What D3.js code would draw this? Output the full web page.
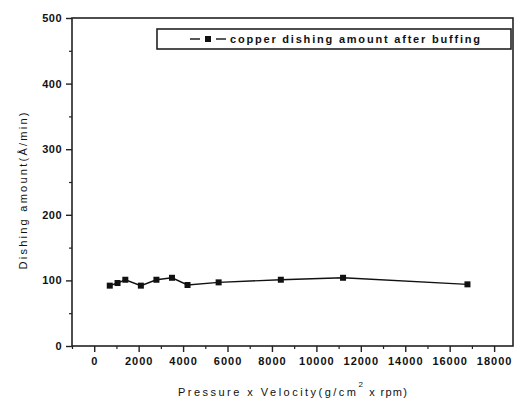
<!DOCTYPE html>
<html><head><meta charset="utf-8">
<script src="https://cdn.jsdelivr.net/npm/d3@7"></script>
<style>body{margin:0;background:#fff}svg{display:block}text{font-family:"Liberation Sans",Arial,sans-serif;fill:#111}</style>
</head><body><svg id="c" width="515" height="399"></svg>
<script>
const xValues = [700, 1050, 1400, 2100, 2800, 3500, 4200, 5600, 8400, 11200, 16800];
const yValues = [92, 96, 101, 92, 101, 104, 93, 97, 101, 104, 94];
const xTicks = [0, 2000, 4000, 6000, 8000, 10000, 12000, 14000, 16000, 18000];
const yTicks = [0, 100, 200, 300, 400, 500];
const seriesName = "copper dishing amount after buffing";
const xTitle = "Pressure x Velocity(g/cm";
const yTitle = "Dishing amount(Å/min)";

const svg = d3.select("#c");
const L = 72, R = 513, T = 18, B = 346;
const x = d3.scaleLinear().domain([-1000, 18850]).range([L, R]);
const y = d3.scaleLinear().domain([0, 500]).range([B, T]);

// frame
svg.append("rect").attr("x", L).attr("y", T).attr("width", R - L).attr("height", B - T)
  .attr("fill", "none").attr("stroke", "#222").attr("stroke-width", 1.6);

// x axis
const xa = svg.append("g").attr("transform", `translate(0,${B})`)
  .call(d3.axisBottom(x).tickValues(xTicks).tickSize(6).tickPadding(5).tickFormat(d3.format("d")));
xa.select(".domain").remove();
xa.selectAll("line").attr("stroke", "#222").attr("stroke-width", 1.4);
xa.selectAll("text").attr("font-size", 11).attr("font-weight", "bold").attr("letter-spacing", 1)
  .attr("fill", "#111");
const xm = svg.append("g").attr("transform", `translate(0,${B})`)
  .call(d3.axisBottom(x).tickValues(d3.range(1000, 18000, 2000).concat([-1000])).tickSize(3).tickFormat(""));
xm.select(".domain").remove();
xm.selectAll("line").attr("stroke", "#222").attr("stroke-width", 1.2);

// y axis
const ya = svg.append("g").attr("transform", `translate(${L},0)`)
  .call(d3.axisLeft(y).tickValues(yTicks).tickSize(6).tickPadding(4).tickFormat(d3.format("d")));
ya.select(".domain").remove();
ya.selectAll("line").attr("stroke", "#222").attr("stroke-width", 1.4);
ya.selectAll("text").attr("font-size", 11).attr("font-weight", "bold").attr("letter-spacing", 0.5)
  .attr("fill", "#111");
const ym = svg.append("g").attr("transform", `translate(${L},0)`)
  .call(d3.axisLeft(y).tickValues(d3.range(50, 500, 100)).tickSize(3).tickFormat(""));
ym.select(".domain").remove();
ym.selectAll("line").attr("stroke", "#222").attr("stroke-width", 1.2);

// series
const data = xValues.map((v, i) => [v, yValues[i]]);
svg.append("path").datum(data)
  .attr("d", d3.line().x(d => x(d[0])).y(d => y(d[1])))
  .attr("fill", "none").attr("stroke", "#111").attr("stroke-width", 1.4);
svg.selectAll(".pt").data(data).enter().append("rect")
  .attr("x", d => x(d[0]) - 3).attr("y", d => y(d[1]) - 3)
  .attr("width", 6).attr("height", 6).attr("fill", "#111");

// legend
svg.append("rect").attr("x", 157).attr("y", 29).attr("width", 354).attr("height", 20)
  .attr("fill", "#fff").attr("stroke", "#222").attr("stroke-width", 1.6);
svg.append("line").attr("x1", 190).attr("x2", 200).attr("y1", 39).attr("y2", 39)
  .attr("stroke", "#111").attr("stroke-width", 1.4);
svg.append("line").attr("x1", 216).attr("x2", 226).attr("y1", 39).attr("y2", 39)
  .attr("stroke", "#111").attr("stroke-width", 1.4);
svg.append("rect").attr("x", 205).attr("y", 36).attr("width", 6).attr("height", 6).attr("fill", "#111");
svg.append("text").attr("x", 230).attr("y", 43).attr("font-size", 11).attr("font-weight", "bold")
  .attr("textLength", 250).attr("lengthAdjust", "spacing").text(seriesName);

// axis titles
const xt = svg.append("text").attr("x", 178).attr("y", 396).attr("font-size", 11);
xt.append("tspan").attr("textLength", 178).attr("lengthAdjust", "spacing").text(xTitle);
xt.append("tspan").attr("dy", -9).attr("font-size", 8).text("2");
xt.append("tspan").attr("dy", 9).attr("dx", 2).attr("letter-spacing", 1.3).text(" x rpm)");

svg.append("text").attr("transform", "translate(27,191) rotate(-90)")
  .attr("text-anchor", "middle").attr("font-size", 11)
  .attr("textLength", 157).attr("lengthAdjust", "spacing").text(yTitle);
</script></body></html>
